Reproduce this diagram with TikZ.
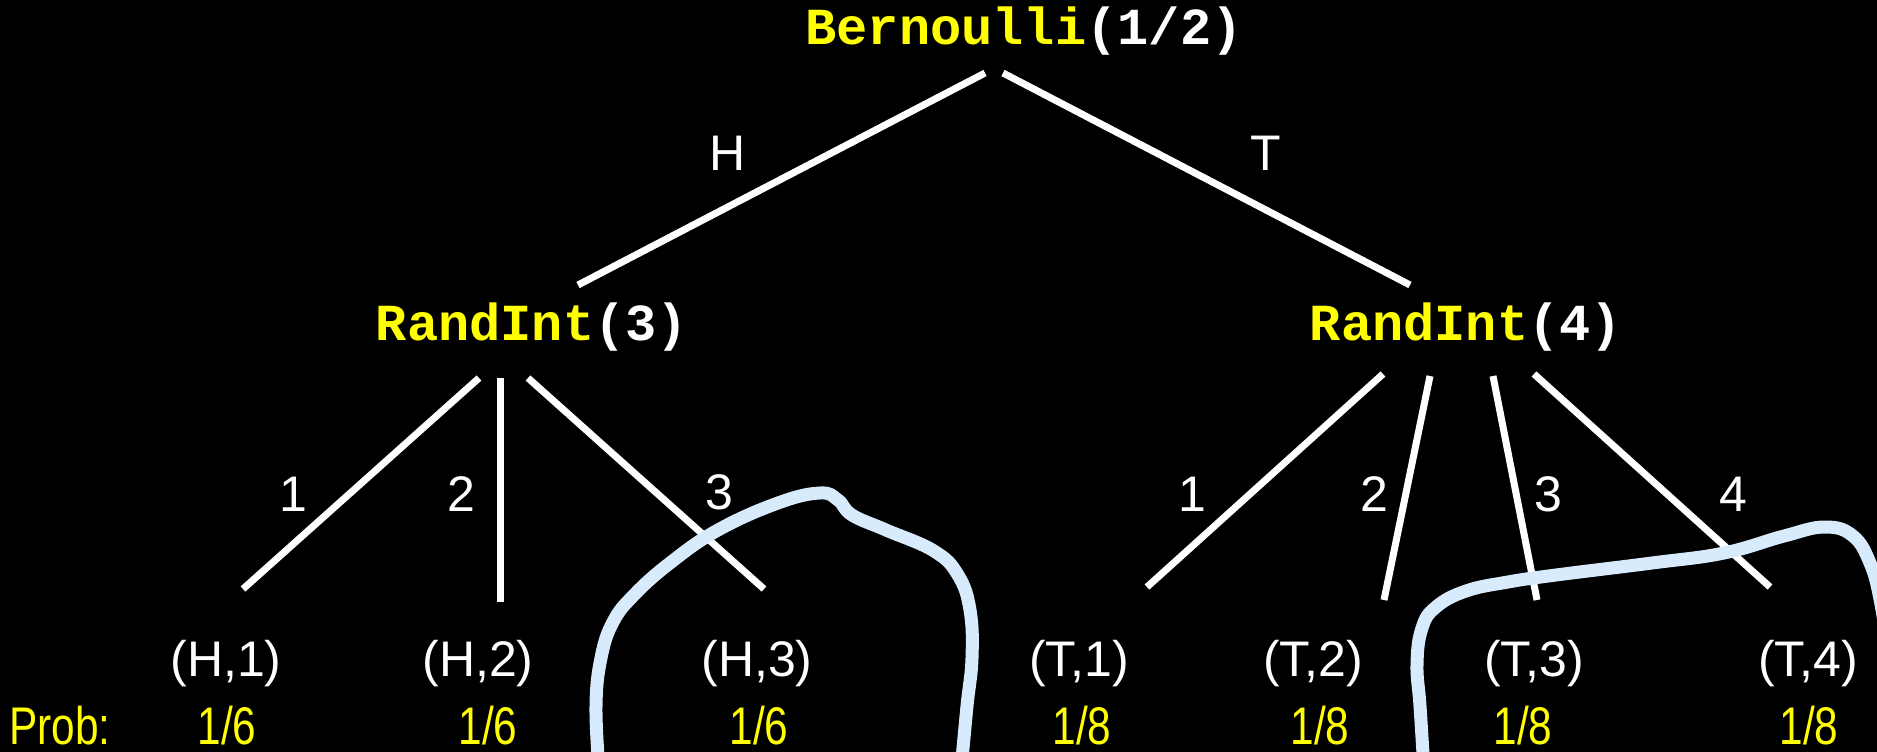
\documentclass[tikz,border=0pt]{standalone}
\usepackage{fontspec}
\setmainfont{Liberation Sans}
\newfontfamily\codefont{Liberation Mono}
\newfontfamily\probfont[FakeStretch=0.8]{Liberation Sans}
\definecolor{hl}{RGB}{255,255,0}
\definecolor{loopblue}{RGB}{215,235,253}
\begin{document}
\begin{tikzpicture}[x=1pt,y=-1pt,
  code/.style={font=\codefont\bfseries\fontsize{52}{60}\selectfont, text=white, anchor=base, inner sep=0pt},
  lbl/.style={font=\fontsize{50}{58}\selectfont, text=white, anchor=base, inner sep=0pt},
  leaf/.style={font=\fontsize{50}{58}\selectfont, text=white, anchor=base, inner sep=0pt},
  prob/.style={font=\probfont\fontsize{53}{60}\selectfont, text=hl, anchor=base, inner sep=0pt},
  branch/.style={draw=white, line width=7pt},
  outline/.style={draw=loopblue, line width=13pt, line join=round, line cap=round}]
\fill[black] (0,0) rectangle (1877,752);
\useasboundingbox (0,0) rectangle (1877,752);
\clip (0,0) rectangle (1877,752);

% texts
\node[code] (root) at (1024,45) {\textcolor{hl}{Bernoulli}(1/2)};
\node[code] (ri3) at (532,340) {\textcolor{hl}{RandInt}(3)};
\node[code] (ri4) at (1466,340) {\textcolor{hl}{RandInt}(4)};

\node[lbl] (lH) at (728,170) {H};
\node[lbl] (lT) at (1266,170) {T};
\node[lbl] (a1) at (293,511) {1};
\node[lbl] (a2) at (461,511) {2};
\node[lbl] (a3) at (719,509) {3};
\node[lbl] (b1) at (1192,511) {1};
\node[lbl] (b2) at (1374,511) {2};
\node[lbl] (b3) at (1548,511) {3};
\node[lbl] (b4) at (1733,511) {4};

\node[leaf] (H1) at (226,676) {(H,1)};
\node[leaf] (H2) at (478,676) {(H,2)};
\node[leaf] (H3) at (757,676) {(H,3)};
\node[leaf] (T1) at (1079,676) {(T,1)};
\node[leaf] (T2) at (1313,676) {(T,2)};
\node[leaf] (T3) at (1534,676) {(T,3)};
\node[leaf] (T4) at (1808,676) {(T,4)};

\node[prob, anchor=base west] (pl) at (9,744) {Prob:};
\node[prob] (pH1) at (227,744) {1/6};
\node[prob] (pH2) at (488,744) {1/6};
\node[prob] (pH3) at (759,744) {1/6};
\node[prob] (pT1) at (1082,744) {1/8};
\node[prob] (pT2) at (1320,744) {1/8};
\node[prob] (pT3) at (1523,744) {1/8};
\node[prob] (pT4) at (1809,744) {1/8};

% branch end points
\coordinate (rootL) at (985,73);   \coordinate (ri3in) at (578,285);
\coordinate (rootR) at (1003,73);  \coordinate (ri4in) at (1410,285);
\coordinate (ri3o1) at (479,378);  \coordinate (H1in) at (243,589);
\coordinate (ri3o2) at (500,378);  \coordinate (H2in) at (500,602);
\coordinate (ri3o3) at (528,378);  \coordinate (H3in) at (764,589);
\coordinate (ri4o1) at (1383,374); \coordinate (T1in) at (1147,587);
\coordinate (ri4o2) at (1430,376); \coordinate (T2in) at (1384,600);
\coordinate (ri4o3) at (1493,376); \coordinate (T3in) at (1537,600);
\coordinate (ri4o4) at (1534,374); \coordinate (T4in) at (1770,587);

\draw[branch] (rootL) -- (ri3in);
\draw[branch] (rootR) -- (ri4in);
\draw[branch] (ri3o1) -- (H1in);
\draw[branch] (ri3o2) -- (H2in);
\draw[branch] (ri3o3) -- (H3in);
\draw[branch] (ri4o1) -- (T1in);
\draw[branch] (ri4o2) -- (T2in);
\draw[branch] (ri4o3) -- (T3in);
\draw[branch] (ri4o4) -- (T4in);

% outlines
\draw[outline] plot[smooth, tension=0.7] coordinates {(599,770) (596,706) (601,658) (613,622) (634,595) (670,563) (718,530) (778,503) (820,493) (838,500) (852,515) (886,530) (934,551) (958,575) (970,610) (972,658) (967,706) (961,770)};
\draw[outline] plot[smooth, tension=0.7] coordinates {(1424,770) (1420,706) (1417,664) (1422,628) (1436,607) (1466,591) (1508,582) (1556,575) (1652,563) (1724,553) (1784,536) (1825,527) (1853,536) (1870,563) (1880,599) (1888,650)};
\end{tikzpicture}
\end{document}
